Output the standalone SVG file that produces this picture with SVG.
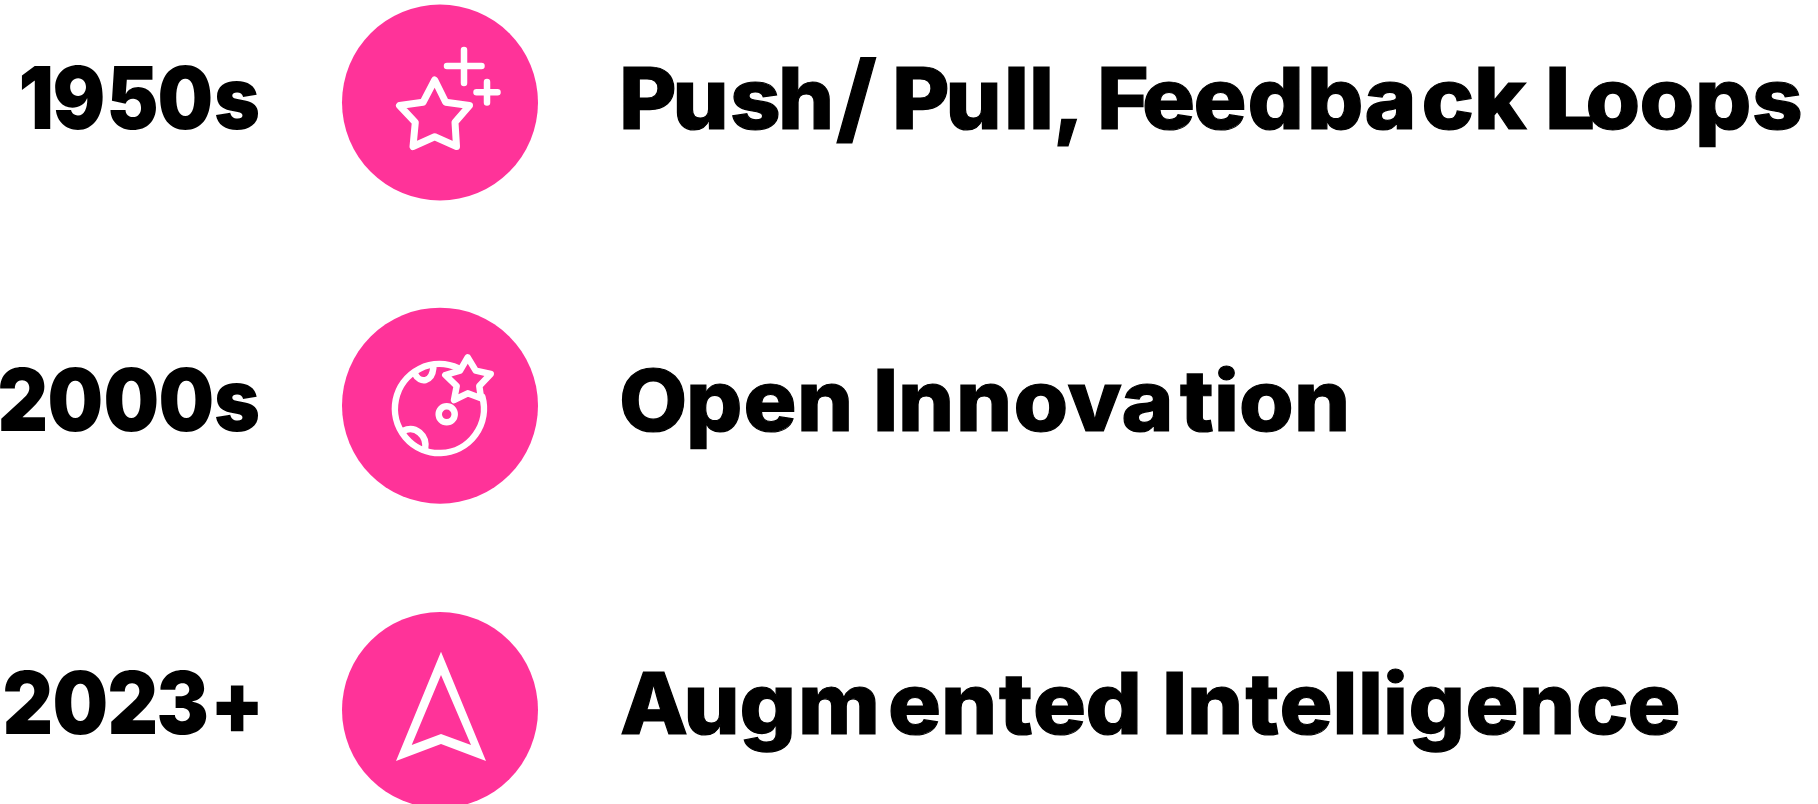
<svg xmlns="http://www.w3.org/2000/svg" width="1818" height="804" viewBox="0 0 1818 804">
<style>
.y{font-family:"Inter","Liberation Sans",sans-serif;font-weight:900;font-size:87px;fill:#000}
.t{font-family:"Inter","Liberation Sans",sans-serif;font-weight:800;font-size:85px;fill:#000;stroke:#000;stroke-width:1.200px}
.c{fill:#ff3399}
.i{fill:none;stroke:#fff;stroke-width:6.500;stroke-linecap:round;stroke-linejoin:round}
</style>
<rect width="1818" height="804" fill="#fff"/>
<g id="connectors"/>
<g id="year-1950s"><text class="y" transform="scale(.9 1)" x="20.600 58.300 118.300 175 237.800" y="129">1950s</text></g>
<g id="icon-star"><circle class="c" cx="440" cy="102.500" r="98"/>
<path class="i" style="stroke-width:7" d="M434.700 80L445.700 102.300L469.500 105.500L455 122.300L456.500 146.500L434.700 136.700L413 146.500L415.300 122.300L399.500 105.500L423 102.300Z"/>
<path class="i" d="M464 50V83M447 66H481.500M487 82V102.500M476.500 92.300H497.500"/></g>
<g id="label-push"><text class="t" transform="scale(1.04 1)" y="129" x="595.200 646.600 701.900 748.100 803.800 846.200 857.700 909.100 965.400 989.400 1012.500 1038.500 1054.800 1098.100 1147.600 1199.500 1256.700 1312 1366.800 1417.300 1471.200 1485.600 1524.500 1576.400 1629.800 1684.600">Push<tspan y="132" style="font-size:98px">/</tspan><tspan y="129"> Pull, Feedback Loops</tspan></text></g>
<g id="year-2000s"><text class="y" transform="scale(.9 1)" x="-2.800 52.800 115 176.100 237.800" y="431">2000s</text></g>
<g id="icon-globe"><circle class="c" cx="440" cy="405.700" r="98"/>
<path class="i" d="M458.300 368.300A44.500 44.500 0 1 0 482.300 396.700"/>
<path class="i" d="M467.700 357.300L475.700 370.700L490.700 374L479.300 386L481 398.300L467.700 393.300L454 400L456.700 386L445.300 375L460 370.700Z"/>
<circle class="i" cx="446.700" cy="414.300" r="8"/>
<path class="i" d="M415 374C420 384 432 382 433.300 368.300M403 431C415 425 428 435 425 450"/></g>
<g id="label-open"><text class="t" transform="scale(1.04 1)" y="431" x="595.200 659.600 714.900 766.300 826.900 839.400 863.500 919.200 974.500 1026.400 1078.400 1134.600 1167.300 1191.300 1244.200">Open Innovation</text></g>
<g id="year-2023"><text class="y" transform="scale(.9 1)" x="2.800 58.300 119.400 173.900 233.300" y="734">2023+</text></g>
<g id="icon-arrow"><circle class="c" cx="440" cy="710" r="98"/>
<path fill="#fff" fill-rule="evenodd" d="M441 651.700L486 761L441 744L396 761ZM441 675L411.700 745L441 734L471 745Z"/></g>
<g id="label-augmented"><text class="t" transform="scale(1.04 1)" y="734" x="596.200 657.200 711 767.300 853.800 904.800 960.600 993.300 1043.800 1105.800 1117.300 1141.300 1197.600 1230.300 1281.300 1305.800 1329.800 1354.300 1409.100 1460.600 1515.400 1564.900">Augmented Intelligence</text></g>
</svg>
